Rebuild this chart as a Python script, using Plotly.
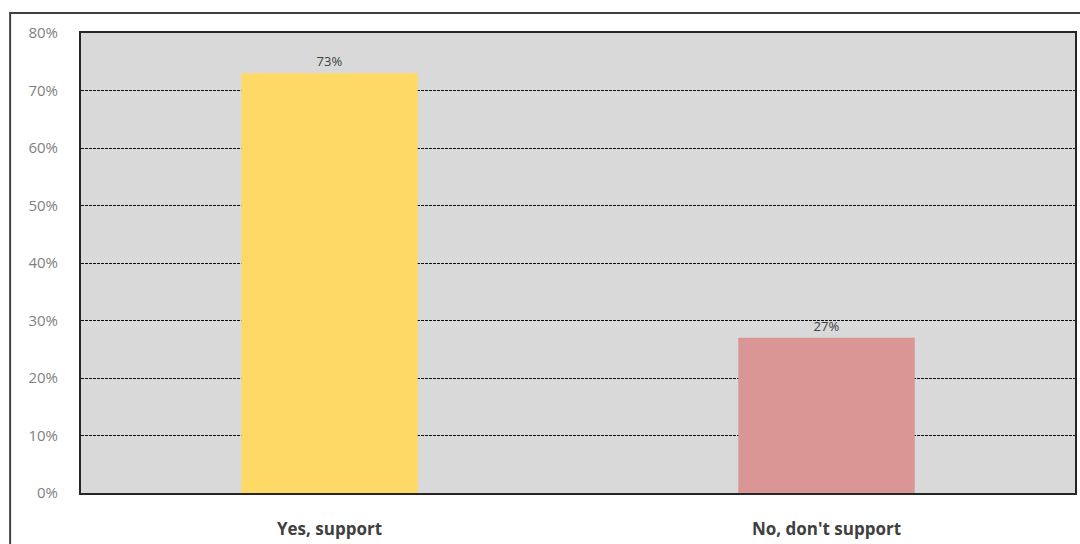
import plotly.graph_objects as go

categories = ["Yes, support", "No, don't support"]
values = [73, 27]
colors = ["#FFD966", "#D99694"]
y_ticks = [0, 10, 20, 30, 40, 50, 60, 70, 80]
y_tick_labels = [f"{v}%" for v in y_ticks]

fig = go.Figure()
fig.add_trace(go.Bar(
    x=categories, y=values,
    marker=dict(color=colors, line=dict(width=0)),
    width=0.355,
    text=[f"{v}%" for v in values],
    textposition="outside",
    textfont=dict(size=13, color="#404040", family="Open Sans"),
    cliponaxis=False,
))

fig.update_layout(
    width=1080, height=544,
    margin=dict(l=81, r=3, t=33, b=51),
    paper_bgcolor="white",
    plot_bgcolor="#D9D9D9",
    showlegend=False,
    font=dict(family="Open Sans", color="#595959"),
    xaxis=dict(
        showgrid=False, showline=True, linecolor="#262626", linewidth=2,
        mirror=True, ticks="", ticklabelstandoff=20,
        tickfont=dict(size=17, color="#404040", family="Open Sans", weight="bold"),
    ),
    yaxis=dict(
        range=[0, 80], tickvals=y_ticks, ticktext=y_tick_labels,
        showgrid=True, gridcolor="#111111", griddash="3px,1px", gridwidth=1,
        showline=True, linecolor="#262626", linewidth=2, mirror=True,
        ticks="", ticklabelstandoff=18, zeroline=False,
        tickfont=dict(size=15, color="#7f7f7f", family="Open Sans"),
    ),
    shapes=[
        dict(type="line", xref="paper", yref="paper", x0=-0.0713, x1=1.01, y0=1.0435, y1=1.0435,
             line=dict(color="#404040", width=2)),
        dict(type="line", xref="paper", yref="paper", x0=-0.0713, x1=-0.0713, y0=1.0455, y1=-0.12,
             line=dict(color="#404040", width=2)),
    ],
)

fig.write_html("out.html", config={"displayModeBar": False},
               post_script="document.body.style.margin='0px';")
